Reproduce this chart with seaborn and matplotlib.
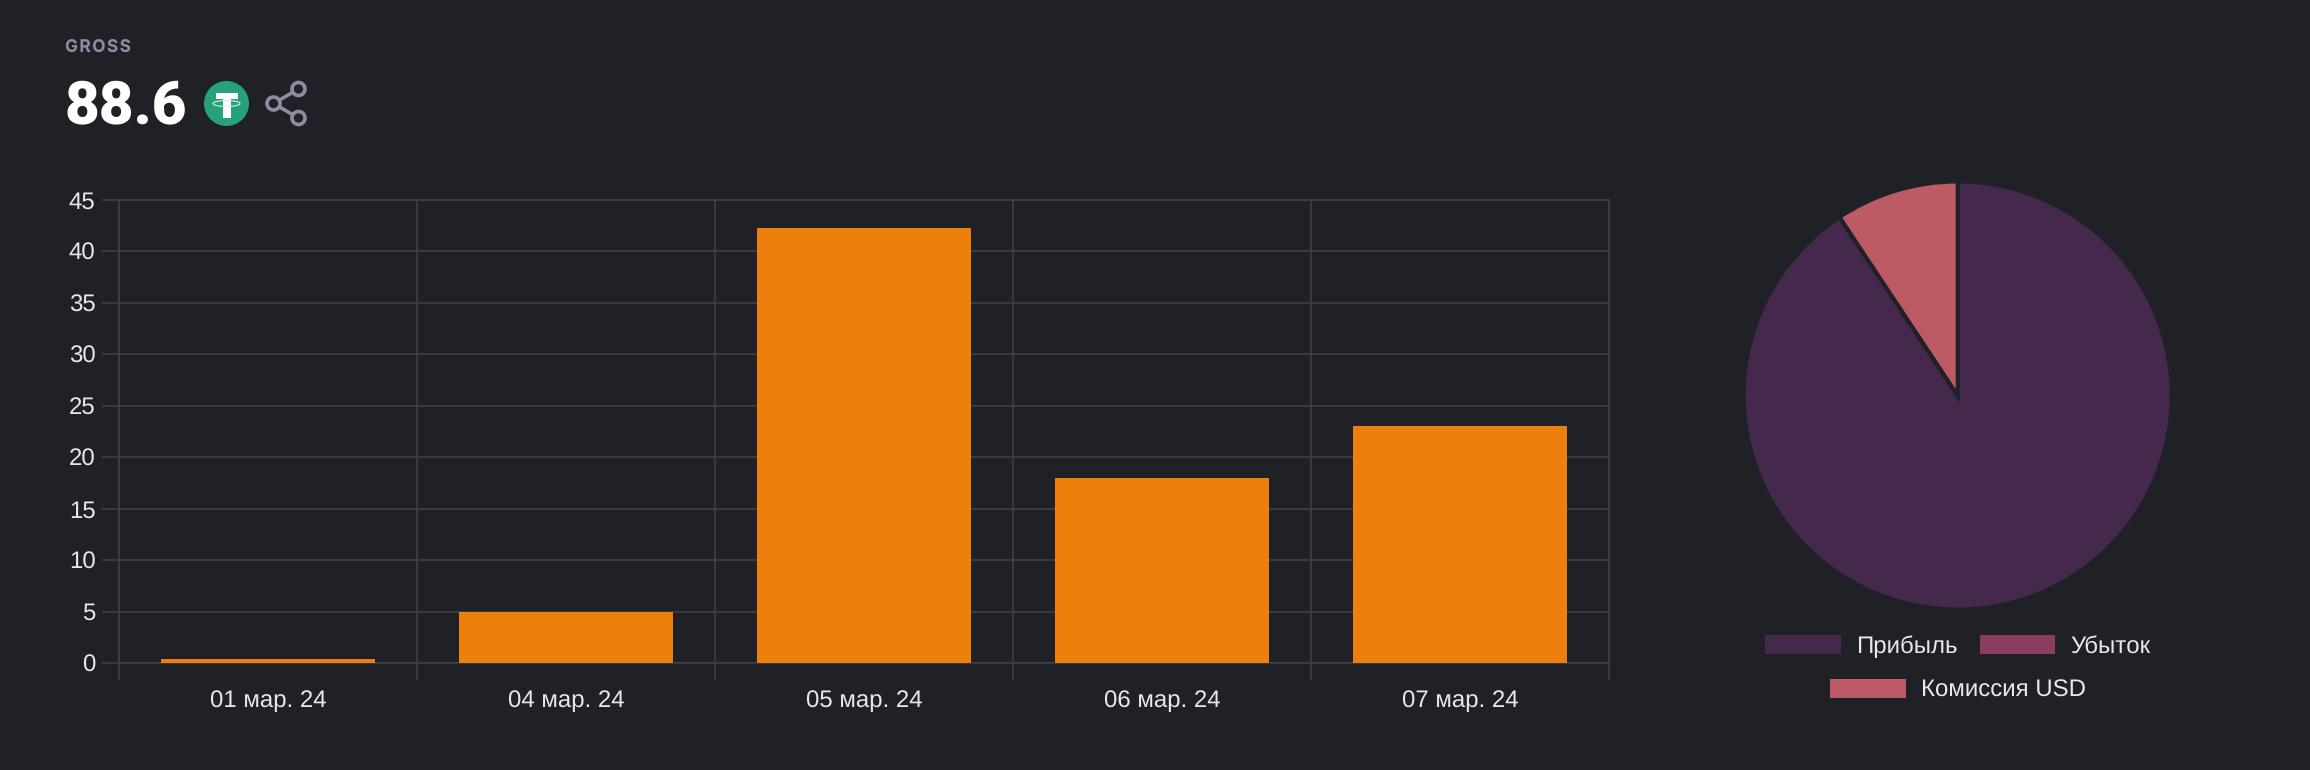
import matplotlib
matplotlib.use("Agg")
import matplotlib.pyplot as plt
from matplotlib.patches import Circle, Ellipse, Patch, Rectangle
import seaborn as sns
import pandas as pd

# bar data
dates = ["01 мар. 24", "04 мар. 24", "05 мар. 24", "06 мар. 24", "07 мар. 24"]
gross = [0.4, 5.0, 42.3, 18.0, 23.0]
y_ticks = [0, 5, 10, 15, 20, 25, 30, 35, 40, 45]

# pie data
pie_labels = ["Прибыль", "Убыток", "Комиссия USD"]
pie_values = [88.6, 0.0, 9.1]

BG = "#202126"
GRID = "#3e3e47"
TEXT = "#e8e8e8"
ORANGE = "#ed7f0c"
PIE_COLORS = ["#45294d", "#8a3d60", "#bc5a65"]
MUTED = "#8f8ca1"

W, H = 2310, 770
FS = 17.4

sns.set_theme(style="dark", rc={"figure.facecolor": BG, "axes.facecolor": BG})
plt.rcParams["font.family"] = "Liberation Sans"
plt.rcParams["text.hinting"] = "no_hinting"
plt.rcParams["text.hinting_factor"] = 1

fig = plt.figure(figsize=(W / 100, H / 100), dpi=100, facecolor=BG)


def px_axes(left, top, right, bottom, **kw):
    return fig.add_axes([left / W, 1 - bottom / H, (right - left) / W, (bottom - top) / H], **kw)


# bars
ax = px_axes(119, 200, 1609, 663)
df = pd.DataFrame({"date": dates, "gross": gross})
sns.barplot(data=df, x="date", y="gross", color=ORANGE, saturation=1, width=0.72, ax=ax, zorder=3,
            linewidth=0, edgecolor="none")
ax.set_xlim(-0.5, 4.5)
ax.set_ylim(0, 45)
ax.set_yticks(y_ticks)
ax.set_xlabel("")
ax.set_ylabel("")
ax.set_xticks([i - 0.5 for i in range(6)], minor=True)
ax.grid(True, axis="y", which="major", color=GRID, lw=1.2)
ax.grid(True, axis="x", which="minor", color=GRID, lw=1.2)
ax.grid(False, axis="x", which="major")
ax.tick_params(axis="x", which="major", length=0, pad=19.5, labelsize=FS, labelcolor=TEXT)
ax.tick_params(axis="x", which="minor", length=12.2, width=1.2, color=GRID, bottom=True)
ax.tick_params(axis="y", length=12, width=1.2, color=GRID, left=True, pad=5, labelsize=FS, labelcolor=TEXT)
for s in ax.spines.values():
    s.set_visible(True)
    s.set_color(GRID)
    s.set_linewidth(1.2)

# pie
ax2 = px_axes(1957.7 - 214, 395.5 - 214, 1957.7 + 214, 395.5 + 214)
ax2.pie(pie_values, colors=PIE_COLORS, startangle=90, counterclock=False, radius=1,
        wedgeprops={"edgecolor": BG, "linewidth": 2.9})
ax2.set_xlim(-1, 1)
ax2.set_ylim(-1, 1)

handles = [Patch(facecolor=c, edgecolor="none") for c in PIE_COLORS]
leg_kw = dict(loc="center", frameon=False, fontsize=FS, labelcolor=TEXT, borderpad=0, borderaxespad=0,
              handlelength=3.14, handleheight=0.83, handletextpad=0.62, columnspacing=0.9)
fig.legend(handles[:2], pie_labels[:2], ncol=2, bbox_to_anchor=(1958 / W, 1 - 646.5 / H), **leg_kw)
fig.legend(handles[2:], pie_labels[2:], ncol=1, bbox_to_anchor=(1958 / W, 1 - 690.5 / H), **leg_kw)

# header, pixel coords
top = fig.add_axes([0, 0, 1, 1], facecolor="none")
top.set_xlim(0, W)
top.set_ylim(H, 0)
top.axis("off")
top.text(65, 52, "G\u200aR\u200aO\u200aS\u200aS", color=MUTED, fontsize=12.5, fontweight="bold",
         family="Inter", va="baseline", ha="left")
top.text(65, 123, "88.6", color="white", fontsize=43.5, fontweight="heavy",
         family="Roboto", va="baseline", ha="left")

# tether icon
top.add_patch(Circle((226.5, 103.5), 22.5, color="#26a17b", lw=0))
top.add_patch(Rectangle((216, 92.5), 21.5, 6.5, color="white", lw=0))
top.add_patch(Rectangle((222.5, 92.5), 8, 25, color="white", lw=0))
top.add_patch(Ellipse((226.5, 103.5), 27, 6, fill=False, edgecolor="#d5efe6", lw=0.8))

# share icon
for a, b in [((273.5, 103.5), (298.5, 89)), ((273.5, 103.5), (298.5, 118))]:
    top.plot([a[0], b[0]], [a[1], b[1]], color=MUTED, lw=2.6, solid_capstyle="butt")
for c in [(298.5, 89), (273.5, 103.5), (298.5, 118)]:
    top.add_patch(Circle(c, 6.5, facecolor=BG, edgecolor=MUTED, lw=2.6, zorder=3))

fig.savefig("out.png", dpi=100, facecolor=BG)
